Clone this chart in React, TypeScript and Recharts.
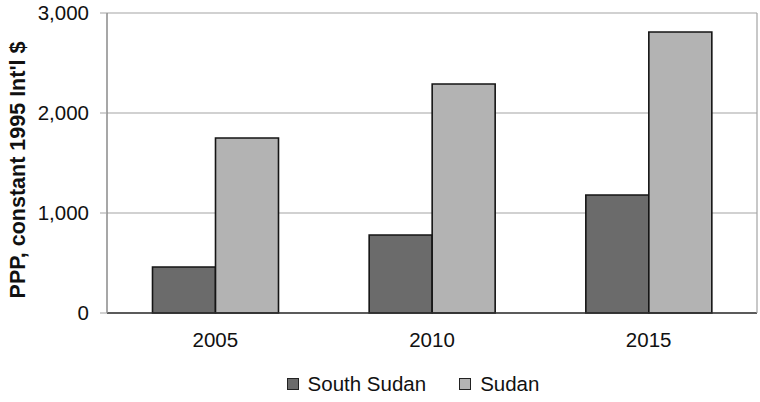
import React from "react";
import { Bar, BarChart, CartesianGrid, Legend, XAxis, YAxis } from "recharts";

const YEARS = ["2005", "2010", "2015"];
const SOUTH_SUDAN = [460, 780, 1180];
const SUDAN = [1750, 2290, 2810];
const Y_TICKS = [0, 1000, 2000, 3000];

const SERIES = [
  { key: "southSudan", name: "South Sudan", fill: "#6b6b6b" },
  { key: "sudan", name: "Sudan", fill: "#b3b3b3" },
];

const data = YEARS.map((year, i) => ({
  year,
  southSudan: SOUTH_SUDAN[i],
  sudan: SUDAN[i],
}));

const FONT = "'Liberation Sans', Arial, sans-serif";
const fmt = (v: number) => v.toLocaleString("en-US");

function LegendBox() {
  return (
    <div style={{ display: "flex", justifyContent: "center", paddingLeft: 66, fontFamily: FONT, fontSize: 20.5, color: "#111" }}>
      {SERIES.map((s, i) => (
        <div key={s.key} style={{ display: "flex", alignItems: "center", marginLeft: i ? 33 : 0 }}>
          <span
            style={{
              width: 10,
              height: 10,
              background: s.fill,
              border: "1.5px solid #222",
              marginRight: 9,
              display: "inline-block",
            }}
          />
          <span>{s.name}</span>
        </div>
      ))}
    </div>
  );
}

function AxisTitle({ viewBox }: any) {
  const cy = viewBox.y + viewBox.height / 2 + 7;
  return (
    <text
      x={18}
      y={cy}
      transform={`rotate(-90, 18, ${cy})`}
      textAnchor="middle"
      dominantBaseline="central"
      fontFamily={FONT}
      fontSize={21.5}
      fontWeight="bold"
      fill="#111"
    >
      PPP, constant 1995 Int&apos;l $
    </text>
  );
}

export default function App() {
  return (
    <div style={{ position: "absolute", left: 0, top: 0, background: "#fff" }}>
      <BarChart
        width={760}
        height={402}
        data={data}
        margin={{ top: 13, right: 2, left: 0, bottom: 49 }}
        barCategoryGap="21%"
        barGap={0}
      >
        <CartesianGrid vertical={false} stroke="#a3a3a3" strokeWidth={1.2} />
        <XAxis
          dataKey="year"
          height={40}
          axisLine={{ stroke: "#333", strokeWidth: 1.5 }}
          tickLine={false}
          tickSize={6}
          tickMargin={13}
          tick={{ fontFamily: FONT, fontSize: 20.5, fill: "#111" }}
        />
        <YAxis
          width={107}
          domain={[0, 3000]}
          ticks={Y_TICKS}
          tickFormatter={fmt}
          axisLine={{ stroke: "#8a8a8a", strokeWidth: 1.5 }}
          tickLine={{ stroke: "#a3a3a3" }}
          tickSize={7}
          tickMargin={11}
          tick={{ fontFamily: FONT, fontSize: 20.5, fill: "#111" }}
          label={<AxisTitle />}
        />
        <YAxis
          yAxisId="right"
          orientation="right"
          width={1}
          domain={[0, 3000]}
          tick={false}
          tickLine={false}
          axisLine={{ stroke: "#a3a3a3", strokeWidth: 1.2 }}
        />
        <Legend
          layout="horizontal"
          verticalAlign="middle"
          align="center"
          content={<LegendBox />}
          wrapperStyle={{ position: "absolute", top: 372, left: 0, width: 760 }}
        />
        {SERIES.map((s) => (
          <Bar
            key={s.key}
            dataKey={s.key}
            name={s.name}
            fill={s.fill}
            stroke="#151515"
            strokeWidth={1.6}
            isAnimationActive={false}
          />
        ))}
      </BarChart>
    </div>
  );
}
